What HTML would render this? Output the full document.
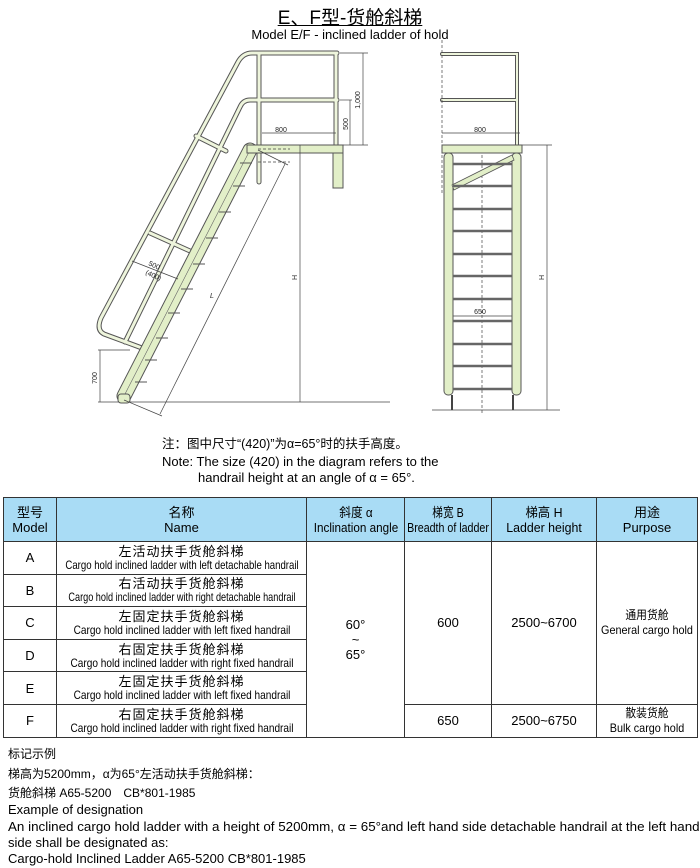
<!DOCTYPE html>
<html><head><meta charset="utf-8"><style>
body{margin:0;background:#fff;width:700px;height:868px;position:relative;overflow:hidden;font-family:"Liberation Sans","Noto Sans CJK SC",sans-serif;color:#000}
.a{position:absolute;white-space:nowrap}
table{position:absolute;left:3px;top:497px;border-collapse:collapse;width:695px;font-size:13px;table-layout:fixed}
td,th{border:1px solid #333;text-align:center;padding:0;line-height:15px;white-space:nowrap;overflow:hidden}
th{background:#a9dcf5;font-weight:normal;height:43px}
td{height:31.6px}
.c{display:block;width:400px;margin-left:calc(50% - 200px);text-align:center;transform:scaleX(0.84);transform-origin:center}
.n{font-size:12px;line-height:12px}
.n b{font-weight:normal;font-size:13px;letter-spacing:1px;line-height:14px}
.cj{font-family:"Liberation Sans","WenQuanYi Zen Hei",sans-serif}
</style></head><body>
<div class="a" style="left:0;width:700px;text-align:center;top:3px;font-size:19px;"><span style="text-decoration:underline">E、F型-货舱斜梯</span></div>
<div class="a" style="left:0;width:700px;text-align:center;top:27px;font-size:13px;">Model E/F - inclined ladder of hold</div>
<svg class="a" style="left:0;top:0" width="700" height="430" viewBox="0 0 700 430">
<g fill="none" stroke="#444" stroke-width="0.8">
<line x1="98" y1="402" x2="390" y2="402"/>
<line x1="432" y1="410" x2="560" y2="410"/>
</g>
<g fill="none" stroke-linecap="round" stroke-linejoin="round">
<g stroke="#555" stroke-width="5">
<path d="M337 53 H252 Q243 53 238 62 L101 318 Q96 330 104 334 L142 348"/>
<path d="M337 100 H250 Q243 100 240 107 L125 342"/>
<line x1="259" y1="53" x2="259" y2="182"/><line x1="336" y1="53" x2="336" y2="150"/>
<line x1="196" y1="136" x2="226" y2="151"/><line x1="150" y1="233" x2="190" y2="251"/>
</g>
<g stroke="#eef5dc" stroke-width="3">
<path d="M337 53 H252 Q243 53 238 62 L101 318 Q96 330 104 334 L142 348"/>
<path d="M337 100 H250 Q243 100 240 107 L125 342"/>
<line x1="259" y1="53" x2="259" y2="182"/><line x1="336" y1="53" x2="336" y2="150"/>
<line x1="196" y1="136" x2="226" y2="151"/><line x1="150" y1="233" x2="190" y2="251"/>
</g>
<line x1="124" y1="396" x2="250" y2="150" stroke="#555" stroke-width="15"/>
<line x1="124" y1="396" x2="250" y2="150" stroke="#e2efc8" stroke-width="13"/>
<line x1="124" y1="396" x2="250" y2="150" stroke="#666" stroke-width="0.6"/>
</g>
<rect x="247" y="145" width="96" height="8" fill="#e2efc8" stroke="#555"/>
<rect x="333" y="153" width="10" height="35" fill="#e2efc8" stroke="#555"/>
<rect x="118" y="394" width="12" height="9" rx="3" fill="#e2efc8" stroke="#555"/>
<g stroke="#444" stroke-width="0.7" fill="none">
<line x1="258" y1="162" x2="290" y2="162" stroke-dasharray="3 2"/>
<line x1="258" y1="149" x2="290" y2="149" stroke-dasharray="3 2"/>
<line x1="262" y1="133" x2="336" y2="133"/>
<line x1="300" y1="145" x2="300" y2="402"/>
<line x1="340" y1="53" x2="368" y2="53"/><line x1="363" y1="53" x2="363" y2="145"/>
<line x1="340" y1="100" x2="352" y2="100"/><line x1="350" y1="100" x2="350" y2="145"/>
<line x1="343" y1="145" x2="368" y2="145"/>
<line x1="98" y1="350" x2="130" y2="350"/><line x1="100" y1="350" x2="100" y2="402"/>
<line x1="258" y1="150" x2="288" y2="165"/><line x1="285" y1="164" x2="160" y2="414"/><line x1="124" y1="400" x2="162" y2="416"/>
<line x1="132" y1="261" x2="178" y2="279"/>
</g>
<g stroke="#555" stroke-width="1">
<line x1="233" y1="186" x2="245" y2="186"/><line x1="219" y1="212" x2="231" y2="212"/><line x1="206" y1="238" x2="218" y2="238"/><line x1="193" y1="264" x2="205" y2="264"/><line x1="181" y1="289" x2="193" y2="289"/><line x1="168" y1="313" x2="180" y2="313"/><line x1="156" y1="338" x2="168" y2="338"/><line x1="145" y1="360" x2="157" y2="360"/><line x1="135" y1="382" x2="147" y2="382"/><line x1="240" y1="163" x2="252" y2="163"/>
</g>
<g font-family="Liberation Sans" font-size="7" fill="#222">
<text x="281" y="132" text-anchor="middle">800</text>
<text x="348" y="124" transform="rotate(-90 348 124)" text-anchor="middle">500</text>
<text x="360" y="100" transform="rotate(-90 360 100)" text-anchor="middle">1,000</text>
<text x="297" y="280" transform="rotate(-90 297 280)">H</text>
<text x="97" y="378" transform="rotate(-90 97 378)" text-anchor="middle">700</text>
<text x="210" y="298" font-style="italic">L</text>
<text x="148" y="265" transform="rotate(25 148 265)">500</text>
<text x="145" y="274" transform="rotate(25 145 274)">(400)</text>
<text x="480" y="132" text-anchor="middle">800</text>
<text x="480" y="314" text-anchor="middle">650</text>
<text x="544" y="280" transform="rotate(-90 544 280)">H</text>
</g>
<g fill="none" stroke-linecap="round">
<g stroke="#555" stroke-width="4"><path d="M442 54 H517 V145"/><line x1="442" y1="100" x2="516" y2="100"/></g>
<g stroke="#eef5dc" stroke-width="2"><path d="M442 54 H517 V145"/><line x1="442" y1="100" x2="516" y2="100"/></g>
</g>
<g stroke="#444" stroke-width="0.7" fill="none">
<line x1="442" y1="40" x2="442" y2="195" stroke-dasharray="3 2"/>
<line x1="482" y1="145" x2="482" y2="415" stroke-dasharray="3 2"/>
<line x1="442" y1="133" x2="520" y2="133"/>
<line x1="452" y1="316" x2="512" y2="316"/>
<line x1="522" y1="145" x2="552" y2="145"/><line x1="547" y1="145" x2="547" y2="410"/>
<line x1="452" y1="395" x2="452" y2="410" stroke-width="2"/><line x1="513" y1="395" x2="513" y2="410" stroke-width="2"/>
</g>
<rect x="442" y="145" width="80" height="8" fill="#e2efc8" stroke="#555"/>
<rect x="444" y="153" width="9" height="242" rx="4" fill="#e2efc8" stroke="#555"/>
<rect x="512" y="153" width="9" height="242" rx="4" fill="#e2efc8" stroke="#555"/>
<polygon points="452,185 512,155 514,160 454,190" fill="#e2efc8" stroke="#555" stroke-width="0.8"/>
<g stroke="#666" stroke-width="2.5">
<line x1="453" y1="164" x2="512" y2="164"/><line x1="453" y1="186" x2="512" y2="186"/><line x1="453" y1="209" x2="512" y2="209"/><line x1="453" y1="231" x2="512" y2="231"/><line x1="453" y1="254" x2="512" y2="254"/><line x1="453" y1="276" x2="512" y2="276"/><line x1="453" y1="299" x2="512" y2="299"/><line x1="453" y1="321" x2="512" y2="321"/><line x1="453" y1="344" x2="512" y2="344"/><line x1="453" y1="366" x2="512" y2="366"/><line x1="453" y1="389" x2="512" y2="389"/>
</g>
</svg>
<div class="a cj" style="left:162px;top:433px;font-size:12.5px;">注：图中尺寸“(420)”为α=65°时的扶手高度。</div>
<div class="a" style="left:162px;top:454px;font-size:13px;">Note: The size (420) in the diagram refers to the</div>
<div class="a" style="left:198px;top:470px;font-size:13px;">handrail height at an angle of α = 65°.</div>
<table>
<colgroup><col style="width:53px"><col style="width:250px"><col style="width:98px"><col style="width:87px"><col style="width:105px"><col></colgroup>
<tr><th>型号<br>Model</th><th>名称<br>Name</th><th><span class="c" style="transform:scaleX(0.9)">斜度 α<br>Inclination angle</span></th><th><span class="c" style="transform:scaleX(0.82)">梯宽 B<br>Breadth of ladder</span></th><th><span class="c" style="transform:scaleX(0.95)">梯高 H<br>Ladder height</span></th><th>用途<br>Purpose</th></tr>
<tr><td>A</td><td class="n"><b>左活动扶手货舱斜梯</b><br><span class="c" style="transform:scaleX(0.8)">Cargo hold inclined ladder with left detachable handrail</span></td><td rowspan="6">60°<br>~<br>65°</td><td rowspan="5">600</td><td rowspan="5">2500~6700</td><td rowspan="5" style="font-size:12px"><span class="c" style="transform:scaleX(0.9)">通用货舱<br>General cargo hold</span></td></tr>
<tr><td>B</td><td class="n"><b>右活动扶手货舱斜梯</b><br><span class="c" style="transform:scaleX(0.76)">Cargo hold inclined ladder with right detachable handrail</span></td></tr>
<tr><td>C</td><td class="n"><b>左固定扶手货舱斜梯</b><br><span class="c">Cargo hold inclined ladder with left fixed handrail</span></td></tr>
<tr><td>D</td><td class="n"><b>右固定扶手货舱斜梯</b><br><span class="c">Cargo hold inclined ladder with right fixed handrail</span></td></tr>
<tr><td>E</td><td class="n"><b>左固定扶手货舱斜梯</b><br><span class="c">Cargo hold inclined ladder with left fixed handrail</span></td></tr>
<tr><td>F</td><td class="n"><b>右固定扶手货舱斜梯</b><br><span class="c">Cargo hold inclined ladder with right fixed handrail</span></td><td>650</td><td>2500~6750</td><td style="font-size:12px"><span class="c" style="transform:scaleX(0.9)">散装货舱<br>Bulk cargo hold</span></td></tr>
</table>
<div class="a cj" style="left:8px;top:745px;font-size:12px;">标记示例</div>
<div class="a cj" style="left:8px;top:765px;font-size:12px;">梯高为5200mm，α为65°左活动扶手货舱斜梯：</div>
<div class="a cj" style="left:8px;top:784px;font-size:12px;">货舱斜梯 A65-5200　CB*801-1985</div>
<div class="a" style="left:8px;top:802px;font-size:13px;">Example of designation</div>
<div class="a" style="left:8px;top:819px;font-size:13px;"><span style="display:inline-block;transform:scaleX(1.03);transform-origin:left">An inclined cargo hold ladder with a height of 5200mm, α = 65°and left hand side detachable handrail at the left hand</span></div>
<div class="a" style="left:8px;top:835px;font-size:13px;">side shall be designated as:</div>
<div class="a" style="left:8px;top:851px;font-size:13px;">Cargo-hold Inclined Ladder A65-5200 CB*801-1985</div>
</body></html>
